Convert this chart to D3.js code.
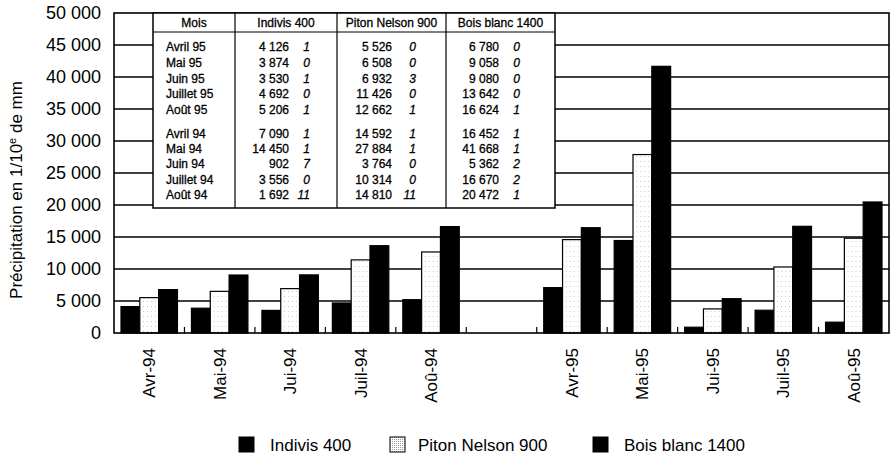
<!DOCTYPE html>
<html>
<head>
<meta charset="utf-8">
<script src="https://cdn.jsdelivr.net/npm/d3@7"></script>
<style>
  body { margin: 0; background: #fff; }
  svg { font-family: "Liberation Sans", Arial, Helvetica, sans-serif; }
</style>
</head>
<body>
<svg id="chart"></svg>
<script>
// categories on the x axis (empty one is the gap between the two years)
const months = ["Avr-94", "Mai-94", "Jui-94", "Juil-94", "Aoû-94", "", "Avr-95", "Mai-95", "Jui-95", "Juil-95", "Aoû-95"];
const seriesNames = ["Indivis 400", "Piton Nelson 900", "Bois blanc 1400"];

// bar values, same order as months (null = gap)
const indivis = [4126, 3874, 3530, 4692, 5206, null, 7090, 14450, 902, 3556, 1692];
const piton = [5526, 6508, 6932, 11426, 12662, null, 14592, 27884, 3764, 10314, 14810];
const boisBlanc = [6780, 9058, 9080, 13642, 16624, null, 16452, 41668, 5362, 16670, 20472];

// inset table
const tableMonths = ["Avril 95", "Mai 95", "Juin 95", "Juillet 95", "Août 95", "Avril 94", "Mai 94", "Juin 94", "Juillet 94", "Août 94"];
const indivisCount = [1, 0, 1, 0, 1, 1, 1, 7, 0, 11];
const pitonCount = [0, 0, 3, 0, 1, 1, 1, 0, 0, 11];
const boisCount = [0, 0, 0, 0, 1, 1, 1, 2, 2, 1];

const yTicks = d3.range(0, 50001, 5000);

const width = 892;
const height = 459;
const margin = { top: 13, right: 3, bottom: 125, left: 114 };

const svg = d3.select("#chart").attr("width", width).attr("height", height);

// numbers with a space as thousands separator
const fmt = d => d3.format(",d")(d).replace(",", " ");

const x = d3.scaleBand()
    .domain(months)
    .range([margin.left, width - margin.right])
    .padding(0);

const x1 = d3.scaleBand()
    .domain(seriesNames)
    .range([7, x.bandwidth() - 7]);

const y = d3.scaleLinear()
    .domain([0, 50000])
    .range([height - margin.bottom - 1, margin.top]);

// stipple pattern for Piton Nelson
const defs = svg.append("defs");
const pat = defs.append("pattern")
    .attr("id", "dots")
    .attr("width", 4).attr("height", 5)
    .attr("patternUnits", "userSpaceOnUse");
pat.append("rect").attr("width", 4).attr("height", 5).attr("fill", "#fff");
pat.append("rect").attr("x", 1).attr("y", 1).attr("width", 1).attr("height", 1).attr("fill", "#c8c8c8");
const pat2 = defs.append("pattern")
    .attr("id", "dotsDense")
    .attr("width", 2).attr("height", 2)
    .attr("patternUnits", "userSpaceOnUse");
pat2.append("rect").attr("width", 2).attr("height", 2).attr("fill", "#fff");
pat2.append("rect").attr("width", 1).attr("height", 1).attr("fill", "#9a9a9a");

const fills = { "Indivis 400": "#000", "Piton Nelson 900": "url(#dots)", "Bois blanc 1400": "#000" };

// gridlines
svg.append("g")
    .selectAll("line")
    .data(yTicks.filter(d => d > 0 && d < 50000))
    .join("line")
    .attr("x1", margin.left).attr("x2", width - margin.right)
    .attr("y1", d => y(d)).attr("y2", d => y(d))
    .attr("stroke", "#000").attr("stroke-width", 1.4);

// bars
const data = months.map((m, i) => ({ month: m, values: [indivis[i], piton[i], boisBlanc[i]] }));

svg.append("g")
    .selectAll("g")
    .data(data.filter(d => d.values[0] != null))
    .join("g")
    .attr("transform", d => `translate(${x(d.month)},0)`)
    .selectAll("rect")
    .data(d => d.values.map((v, k) => ({ key: seriesNames[k], value: v })))
    .join("rect")
    .attr("x", d => x1(d.key))
    .attr("width", x1.bandwidth())
    .attr("y", d => y(d.value))
    .attr("height", d => y(0) - y(d.value))
    .attr("fill", d => fills[d.key])
    .attr("stroke", "#000")
    .attr("stroke-width", 1.2);

// frame
svg.append("rect")
    .attr("x", margin.left).attr("y", margin.top)
    .attr("width", width - margin.right - margin.left)
    .attr("height", y(0) - margin.top)
    .attr("fill", "none").attr("stroke", "#000").attr("stroke-width", 1.6);

// small ticks at band boundaries on the baseline
svg.append("g")
    .selectAll("line")
    .data(months.slice(1))
    .join("line")
    .attr("x1", d => x(d)).attr("x2", d => x(d))
    .attr("y1", y(0)).attr("y2", y(0) - 6)
    .attr("stroke", "#000").attr("stroke-width", 1.2);

// y axis labels
svg.append("g")
    .attr("transform", `translate(${margin.left},0)`)
    .call(d3.axisLeft(y).tickValues(yTicks).tickSize(0).tickPadding(13).tickFormat(fmt))
    .call(g => g.select(".domain").remove())
    .selectAll("text")
    .attr("font-size", 18)
    .attr("fill", "#000");

// x axis labels
svg.append("g")
    .attr("transform", `translate(0,${y(0)})`)
    .call(d3.axisBottom(x).tickSize(0).tickPadding(0))
    .call(g => g.select(".domain").remove())
    .selectAll("text")
    .attr("font-size", 17)
    .attr("fill", "#000")
    .attr("text-anchor", "end")
    .attr("transform", "rotate(-90)")
    .attr("x", -15)
    .attr("y", 0)
    .attr("dy", "0.35em");

// y axis title
svg.append("text")
    .attr("transform", "translate(22,190) rotate(-90)")
    .attr("text-anchor", "middle")
    .attr("font-size", 17)
    .html('Précipitation en 1/10<tspan dy="-6" font-size="11">e</tspan><tspan dy="6"> de mm</tspan>');

// inset table
const tab = svg.append("g")
    .attr("stroke-width", 0);
const cols = [153, 235, 337, 446, 555];
const tTop = margin.top, tBottom = 208, headerLine = 32;
const rowY = [47, 63, 79, 94, 110, 134, 149, 164, 180, 195];

tab.append("rect")
    .attr("x", cols[0]).attr("y", tTop)
    .attr("width", cols[4] - cols[0]).attr("height", tBottom - tTop)
    .attr("fill", "#fff").attr("stroke", "#000").attr("stroke-width", 1.5);

tab.selectAll("line.col")
    .data(cols.slice(1, 4))
    .join("line")
    .attr("class", "col")
    .attr("x1", d => d).attr("x2", d => d)
    .attr("y1", tTop).attr("y2", tBottom)
    .attr("stroke", "#000").attr("stroke-width", 1.2);

tab.append("line")
    .attr("x1", cols[0]).attr("x2", cols[4])
    .attr("y1", headerLine).attr("y2", headerLine)
    .attr("stroke", "#000").attr("stroke-width", 1);

// slightly heavier text, the scan looks bold
const heavy = sel => sel.attr("font-size", 12).attr("stroke", "#000").attr("stroke-width", 0.3);

const headers = ["Mois"].concat(seriesNames);
tab.selectAll("text.head")
    .data(headers)
    .join("text")
    .attr("class", "head")
    .attr("x", (d, i) => (cols[i] + cols[i + 1]) / 2)
    .attr("y", 27)
    .attr("text-anchor", "middle")
    .call(heavy)
    .text(d => d);

tab.selectAll("text.month")
    .data(tableMonths)
    .join("text")
    .attr("class", "month")
    .attr("x", 166)
    .attr("y", (d, i) => rowY[i] + 4)
    .call(heavy)
    .text(d => d);

const tableCols = [
    { vals: indivis.filter(v => v != null), counts: indivisCount, vx: 289, cx: 310 },
    { vals: piton.filter(v => v != null), counts: pitonCount, vx: 392, cx: 416 },
    { vals: boisBlanc.filter(v => v != null), counts: boisCount, vx: 499, cx: 520 }
];

tableCols.forEach(c => {
    tab.append("g")
        .selectAll("text")
        .data(c.vals)
        .join("text")
        .attr("x", c.vx)
        .attr("y", (d, i) => rowY[i] + 4)
        .attr("text-anchor", "end")
        .call(heavy)
        .text(d => fmt(d));
    tab.append("g")
        .selectAll("text")
        .data(c.counts)
        .join("text")
        .attr("x", c.cx)
        .attr("y", (d, i) => rowY[i] + 4)
        .attr("text-anchor", "end")
        .attr("font-style", "italic")
        .call(heavy)
        .text(d => d);
});

// legend
const legendX = [239, 390, 593];
const legendFill = ["#000", "url(#dotsDense)", "#000"];
const lg = svg.append("g")
    .selectAll("g")
    .data(seriesNames)
    .join("g")
    .attr("transform", (d, i) => `translate(${legendX[i]},437)`);
lg.append("rect")
    .attr("width", 15).attr("height", 15)
    .attr("fill", (d, i) => legendFill[i])
    .attr("stroke", "#000").attr("stroke-width", 1);
lg.append("text")
    .attr("x", (d, i) => i == 1 ? 28 : 31)
    .attr("y", 14)
    .attr("font-size", 17)
    .text(d => d);
</script>
</body>
</html>
